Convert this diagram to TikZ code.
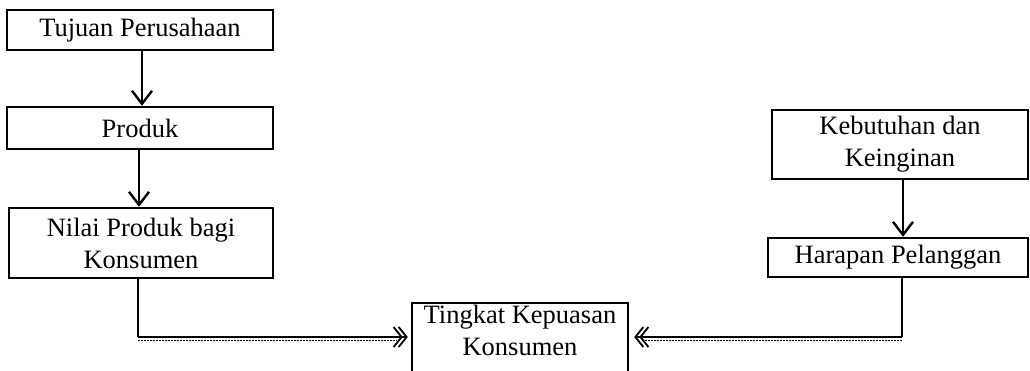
\documentclass[tikz,border=0pt]{standalone}
\usepackage{fontspec}
\setmainfont{Liberation Serif}
\usetikzlibrary{arrows.meta}
\begin{document}
\begin{tikzpicture}[x=1pt,y=-1pt,
  box/.style={draw=black, line width=2.4pt, inner sep=0pt, align=center,
    font=\fontsize{26.5}{32}\selectfont},
  flow/.style={line width=2pt, -{Straight Barb[length=13pt,width=20pt,line width=2.4pt]}},
  feedtip/.style={-{Straight Barb[length=8pt,width=20pt,line width=1.8pt,sep=-5pt]
    Straight Barb[length=8pt,width=20pt,line width=1.8pt]}},
  plain/.style={line width=2pt},
  dots/.style={line width=1.3pt, dash pattern=on 2pt off 1pt}]
\useasboundingbox (0,0) rectangle (1030,370);
\begin{scope}
\clip (0,0) rectangle (1030,370);

% left column
\node[box, minimum width=266pt, minimum height=40pt] (tujuan) at (140,30) {Tujuan Perusahaan};
\node[box, minimum width=266pt, minimum height=42pt] (produk) at (140,128) {Produk};
\node[box, minimum width=264pt, minimum height=70pt] (nilai) at (141,243) {Nilai Produk bagi\\Konsumen};

% right column
\node[box, minimum width=256pt, minimum height=69pt] (butuh) at (900,144.5) {Kebutuhan dan\\Keinginan};
\node[box, minimum width=260pt, minimum height=39pt] (harap) at (898,257.5) {Harapan Pelanggan};

% central result box, running past the lower edge
\node[box, minimum width=216pt, minimum height=80pt, anchor=north] (puas) at (520,302) {};
\node[box, draw=none, anchor=north] (puastext) at (520,304) {Tingkat Kepuasan\\Konsumen};

% vertical flows
\draw[flow] ([xshift=2pt]tujuan.south) -- ([xshift=2pt]produk.north);
\draw[flow] ([xshift=-1pt]produk.south) -- ([xshift=-1pt]produk.south |- nilai.north);
\draw[flow] ([xshift=3pt]butuh.south) -- ([xshift=3pt]butuh.south |- harap.north);

% feeds into the result box
\coordinate (lc) at (138,337);
\coordinate (lcd) at (138,340.5);
\coordinate (rc) at (902,337);
\coordinate (rcd) at (902,340.5);
\draw[plain] ([xshift=-3pt]nilai.south) -- (lc);
\draw[plain, feedtip, shorten >=3pt] (lc) -- (lc -| puas.west);
\draw[dots] (lcd) -- ([xshift=-14pt]lcd -| puas.west);
\draw[plain] ([xshift=4pt]harap.south) -- (rc);
\draw[plain, feedtip, shorten >=5pt] (rc) -- (rc -| puas.east);
\draw[dots] (rcd) -- ([xshift=14pt]rcd -| puas.east);
\end{scope}
\end{tikzpicture}
\end{document}
